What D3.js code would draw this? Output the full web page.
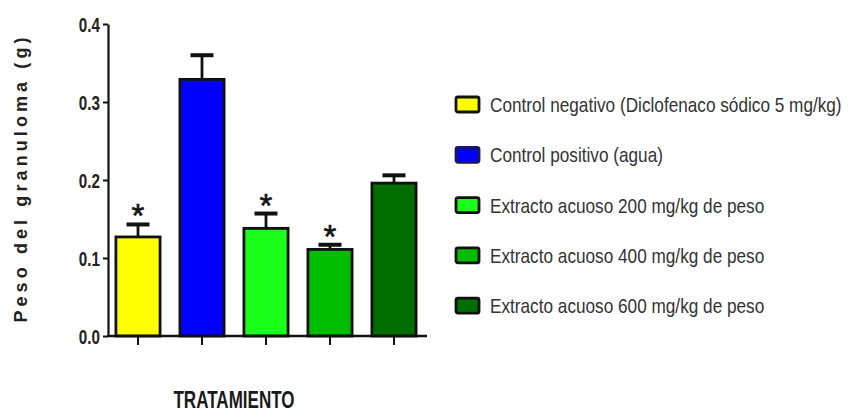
<!DOCTYPE html>
<html>
<head>
<meta charset="utf-8">
<script src="https://cdn.jsdelivr.net/npm/d3@7"></script>
<style>
  body { margin: 0; background: #fff; }
  svg { display: block; }
  text { font-family: "Liberation Sans", Arial, sans-serif; }
</style>
</head>
<body>
<svg id="chart" width="850" height="412"></svg>
<script>
// groups and values
const categories = [
    "Control negativo (Diclofenaco sódico 5 mg/kg)",
    "Control positivo (agua)",
    "Extracto acuoso 200 mg/kg de peso",
    "Extracto acuoso 400 mg/kg de peso",
    "Extracto acuoso 600 mg/kg de peso"
];
const means = [0.127, 0.329, 0.138, 0.111, 0.196];
const errors = [0.016, 0.031, 0.019, 0.006, 0.010];
const significant = [true, false, true, true, false];
const colors = ["#ffff00", "#0000ff", "#1aff1a", "#00bd00", "#006f00"];
const yTicks = [0.0, 0.1, 0.2, 0.3, 0.4];

const svg = d3.select("#chart");

// the original uses a narrow font, so squeeze text around its anchor point
function narrow(px, py, f) {
    return "translate(" + px + "," + py + ") scale(" + f + ",1)";
}

let x = d3.scaleBand().domain(categories).range([106, 426]).paddingInner(0.31).paddingOuter(0.155);
let y = d3.scaleLinear().domain([0, 0.4]).range([336, 24]);

// bars
svg.selectAll(".bar").data(categories).enter()
    .append("rect").attr("class", "bar")
    .attr("x", d => x(d))
    .attr("width", x.bandwidth())
    .attr("y", (d, i) => y(means[i]))
    .attr("height", (d, i) => y(0) - y(means[i]))
    .attr("fill", (d, i) => colors[i])
    .attr("stroke", "#111")
    .attr("stroke-width", 2.8);

// error bars (upper half only)
let err = svg.selectAll(".err").data(categories).enter().append("g").attr("class", "err");
err.append("line")
    .attr("x1", d => x(d) + x.bandwidth() / 2)
    .attr("x2", d => x(d) + x.bandwidth() / 2)
    .attr("y1", (d, i) => y(means[i]))
    .attr("y2", (d, i) => y(means[i] + errors[i]))
    .attr("stroke", "#111").attr("stroke-width", 2.8);
err.append("line")
    .attr("x1", d => x(d) + x.bandwidth() / 2 - 11.5)
    .attr("x2", d => x(d) + x.bandwidth() / 2 + 11.5)
    .attr("y1", (d, i) => y(means[i] + errors[i]))
    .attr("y2", (d, i) => y(means[i] + errors[i]))
    .attr("stroke", "#111").attr("stroke-width", 4);

// asterisks
svg.selectAll(".star").data(categories.filter((d, i) => significant[i])).enter()
    .append("text").attr("class", "star")
    .attr("x", d => x(d) + x.bandwidth() / 2)
    .attr("y", d => { let i = categories.indexOf(d); return y(means[i] + errors[i]) + 3; })
    .attr("text-anchor", "middle")
    .attr("font-size", 33)
    .attr("fill", "#151515")
    .attr("stroke", "#151515").attr("stroke-width", 0.6)
    .text("*");

// y axis
let yAxis = svg.append("g").attr("transform", "translate(108,0)")
    .call(d3.axisLeft(y).tickValues(yTicks).tickFormat(d3.format(".1f")).tickSize(5).tickSizeOuter(0));
yAxis.select(".domain").attr("stroke", "#111").attr("stroke-width", 2.2);
yAxis.selectAll(".tick line").attr("stroke", "#111").attr("stroke-width", 2);
yAxis.selectAll(".tick text")
    .attr("x", 0)
    .attr("transform", narrow(-8, 0, 0.76))
    .attr("dy", "0.36em")
    .attr("font-family", "Liberation Sans, Arial, sans-serif")
    .attr("font-size", 20)
    .attr("font-weight", "bold")
    .attr("fill", "#222");

// x axis
let xAxis = svg.append("g").attr("transform", "translate(0,336)")
    .call(d3.axisBottom(x).tickSize(9).tickSizeOuter(0).tickFormat(""));
xAxis.select(".domain").attr("d", "M107,0H427").attr("stroke", "#111").attr("stroke-width", 2.5);
xAxis.selectAll(".tick line").attr("stroke", "#111").attr("stroke-width", 2);

// axis titles
svg.append("text")
    .attr("transform", "translate(27,178) rotate(-90)")
    .attr("text-anchor", "middle")
    .attr("font-size", 18)
    .attr("font-weight", "bold")
    .attr("letter-spacing", 4.1)
    .attr("fill", "#222")
    .text("Peso del granuloma (g)");

svg.append("text")
    .attr("transform", narrow(234, 408, 0.71))
    .attr("text-anchor", "middle")
    .attr("font-size", 24)
    .attr("font-weight", "bold")
    .attr("fill", "#1a1a1a")
    .text("TRATAMIENTO");

// legend
let legend = svg.selectAll(".legend").data(categories).enter()
    .append("g").attr("class", "legend")
    .attr("transform", (d, i) => "translate(455," + (104 + i * 50.3) + ")");
legend.append("rect")
    .attr("x", 1).attr("y", -7)
    .attr("width", 23).attr("height", 15)
    .attr("rx", 2)
    .attr("fill", (d, i) => colors[i])
    .attr("stroke", (d, i) => i == 1 ? "#1a1a55" : "#111").attr("stroke-width", 2.8);
legend.append("text")
    .attr("transform", narrow(35, 8, 0.86))
    .attr("font-size", 20)
    .attr("fill", "#333")
    .text(d => d);
</script>
</body>
</html>
